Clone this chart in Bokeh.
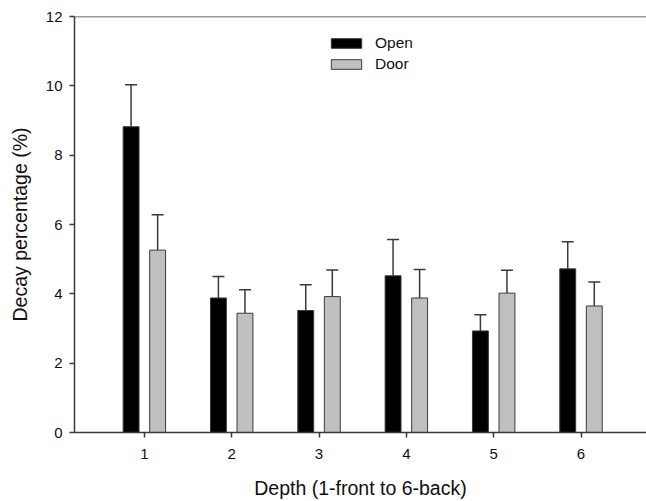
from bokeh.plotting import figure
from bokeh.models import ColumnDataSource, Whisker, TeeHead, Legend, LegendItem, Span, FixedTicker, Range1d
from bokeh.embed import file_html
from bokeh.resources import INLINE

depth = [1, 2, 3, 4, 5, 6]
open_vals = [8.82, 3.88, 3.52, 4.52, 2.93, 4.72]
open_err = [1.21, 0.62, 0.74, 1.05, 0.47, 0.78]
door_vals = [5.26, 3.44, 3.92, 3.88, 4.02, 3.65]
door_err = [1.02, 0.68, 0.77, 0.82, 0.66, 0.69]

offset = 0.152
bw = 0.182

src_open = ColumnDataSource(dict(
    x=[d - offset for d in depth], top=open_vals,
    upper=[v + e for v, e in zip(open_vals, open_err)]))
src_door = ColumnDataSource(dict(
    x=[d + offset for d in depth], top=door_vals,
    upper=[v + e for v, e in zip(door_vals, door_err)]))

p = figure(width=646, height=501, output_backend="svg", toolbar_location=None,
           x_range=Range1d(0.2, 6.75), y_range=Range1d(0, 12),
           min_border_left=74, min_border_top=16, min_border_right=0, min_border_bottom=69)
p.outline_line_color = None
p.xgrid.visible = False
p.ygrid.visible = False
p.background_fill_color = "white"

edge = "#3a3a3a"
for src in (src_open, src_door):
    w = Whisker(source=src, base="x", lower="top", upper="upper",
                line_color=edge, line_width=1.5,
                upper_head=TeeHead(size=12, line_color=edge, line_width=1.5),
                lower_head=None)
    p.add_layout(w)

r_open = p.vbar(x="x", top="top", width=bw, source=src_open,
                fill_color="black", line_color=edge, line_width=1)
r_door = p.vbar(x="x", top="top", width=bw, source=src_door,
                fill_color="#c0c0c0", line_color=edge, line_width=1)

p.add_layout(Span(location=12, dimension="width", line_color=edge, line_width=1.5))

font = "Liberation Sans"
for ax in (p.xaxis[0], p.yaxis[0]):
    ax.axis_line_color = edge
    ax.axis_line_width = 1.5
    ax.major_tick_line_color = edge
    ax.major_tick_line_width = 1.5
    ax.major_tick_out = 5
    ax.major_tick_in = 0
    ax.minor_tick_line_color = None
    ax.major_label_text_font = font
    ax.major_label_text_font_size = "15px"
    ax.major_label_text_color = "#111111"
    ax.axis_label_text_font = font
    ax.axis_label_text_font_size = "19.5px"
    ax.axis_label_text_font_style = "normal"
    ax.axis_label_text_color = "#111111"

p.xaxis.ticker = FixedTicker(ticks=depth)
p.yaxis.ticker = FixedTicker(ticks=[0, 2, 4, 6, 8, 10, 12])
p.xaxis.axis_label = "Depth (1-front to 6-back)"
p.yaxis.axis_label = "Decay percentage (%)"
p.xaxis.major_label_standoff = 11
p.xaxis.axis_label_standoff = 15
p.yaxis.major_label_standoff = 7
p.yaxis.axis_label_standoff = 12

legend = Legend(items=[LegendItem(label="Open", renderers=[r_open]),
                       LegendItem(label="Door", renderers=[r_door])],
                location=(253, 358), orientation="vertical")
legend.border_line_color = None
legend.background_fill_alpha = 0
legend.padding = 0
legend.margin = 0
legend.spacing = 0
legend.glyph_width = 38
legend.glyph_height = 12
legend.label_height = 21
legend.label_standoff = 10
legend.label_text_font = font
legend.label_text_font_size = "15.5px"
legend.label_text_color = "#111111"
p.add_layout(legend)

open("out.html", "w").write(file_html(p, INLINE))
